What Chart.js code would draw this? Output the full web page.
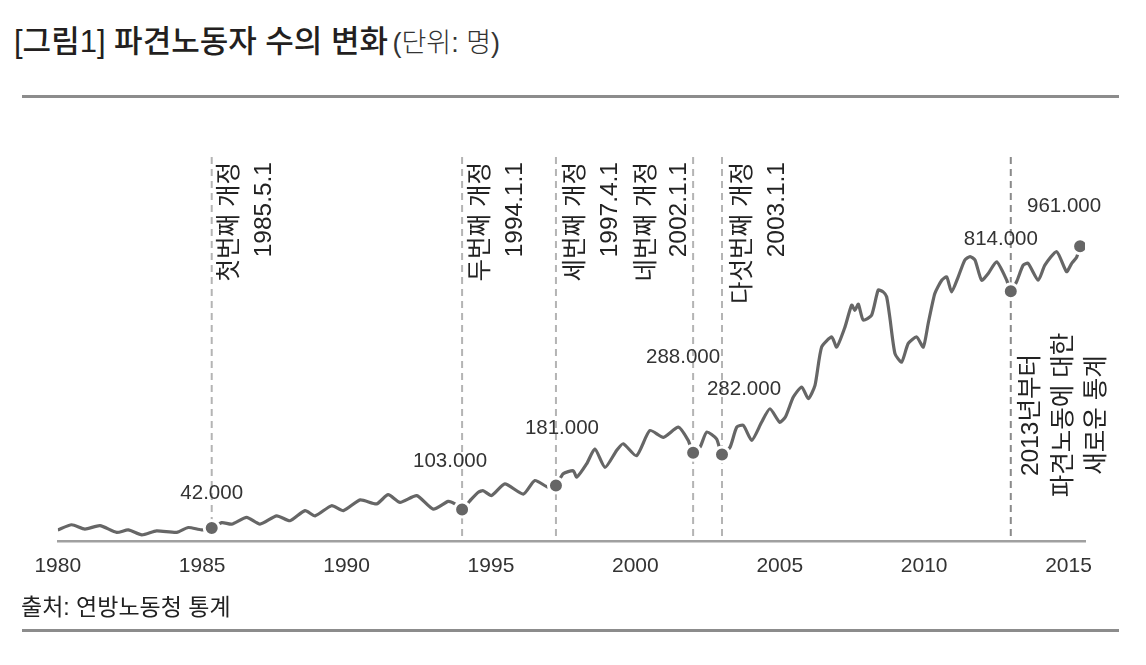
<!DOCTYPE html>
<html lang="ko">
<head>
<meta charset="utf-8">
<title>파견노동자 수의 변화</title>
<script src="https://cdn.jsdelivr.net/npm/chart.js@4.4.1/dist/chart.umd.min.js"></script>
<style>
  body { margin: 0; background: #fff; }
  #page { position: relative; width: 1146px; height: 665px; overflow: hidden;
          font-family: 'Liberation Sans', 'Noto Sans CJK KR', sans-serif; color: #222; }
  #title { position: absolute; left: 14px; top: 26px; line-height: 32px; white-space: nowrap; }
  #title .main { font-size: 31px; font-weight: 500; color: #231f20; }
  #title .unit { font-size: 27px; font-weight: 300; color: #333; }
  .rule { position: absolute; left: 22px; width: 1097px; height: 3px; background: #8c8c8c; }
  #source { position: absolute; left: 21px; top: 593px; font-size: 23px; line-height: 28px; color: #222; }
  #wrap { position: absolute; left: 0; top: 0; width: 1146px; height: 665px; }
</style>
</head>
<body>
<div id="page">
  <div id="title"><span class="main">[그림1] 파견노동자 수의 변화</span> <span class="unit">(단위: 명)</span></div>
  <div class="rule" style="top:95px"></div>
  <div id="wrap"><canvas id="chart"></canvas></div>
  <div id="source">출처: 연방노동청 통계</div>
  <div class="rule" style="top:629px"></div>
</div>
<script>
// readings of the curve (year as decimal, persons)
const years = [
  1980.0, 1980.48, 1980.94, 1981.46, 1982.04, 1982.44, 1982.91, 1983.42, 1984.12, 1984.52,
  1984.98, 1985.33, 1985.68, 1986.02, 1986.54, 1987.0, 1987.58, 1988.04, 1988.56, 1988.91,
  1989.48, 1989.89, 1990.47, 1991.04, 1991.44, 1991.85, 1992.43, 1993.0, 1993.52, 1993.75,
  1994.0, 1994.27, 1994.56, 1994.73, 1995.02, 1995.48, 1996.12, 1996.52, 1996.98, 1997.25,
  1997.5, 1997.85, 1997.97, 1998.31, 1998.6, 1998.95, 1999.35, 1999.58, 2000.04, 2000.5,
  2000.97, 2001.49, 2001.83, 2002.0, 2002.24, 2002.47, 2002.81, 2003.0, 2003.28, 2003.51,
  2003.74, 2004.03, 2004.37, 2004.66, 2005.0, 2005.2, 2005.47, 2005.76, 2005.99, 2006.22,
  2006.45, 2006.8, 2006.97, 2007.26, 2007.49, 2007.6, 2007.72, 2007.89, 2008.18, 2008.41,
  2008.58, 2008.7, 2008.81, 2008.99, 2009.22, 2009.45, 2009.74, 2009.97, 2010.14, 2010.37,
  2010.61, 2010.78, 2010.95, 2011.18, 2011.41, 2011.59, 2011.76, 2011.99, 2012.22, 2012.51,
  2012.86, 2013.0, 2013.2, 2013.43, 2013.6, 2013.95, 2014.18, 2014.59, 2014.93, 2015.11,
  2015.28, 2015.4
];
const workers = [
  36000, 53000, 39000, 50000, 28000, 36000, 20000, 33000, 28000, 44000,
  36000, 42000, 60000, 55000, 77000, 55000, 82000, 66000, 99000, 82000,
  115000, 99000, 134000, 121000, 151000, 126000, 148000, 104000, 129000, 121000,
  103000, 131000, 159000, 164000, 148000, 186000, 153000, 197000, 175000, 181000,
  219000, 229000, 208000, 251000, 300000, 240000, 295000, 317000, 278000, 360000,
  338000, 371000, 328000, 288000, 306000, 355000, 333000, 282000, 306000, 371000,
  377000, 328000, 387000, 431000, 387000, 405000, 469000, 502000, 464000, 507000,
  632000, 665000, 632000, 698000, 769000, 752000, 772000, 720000, 736000, 818000,
  812000, 796000, 730000, 611000, 583000, 644000, 665000, 632000, 709000, 807000,
  850000, 861000, 812000, 861000, 916000, 927000, 916000, 850000, 872000, 910000,
  850000, 814000, 845000, 899000, 905000, 850000, 899000, 943000, 878000, 905000,
  925000, 961000
];

// highlighted points with value labels
const markYears = [1985.33, 1994.0, 1997.25, 2002.0, 2003.0, 2013.0, 2015.4];
const markValues = [42000, 103000, 181000, 288000, 282000, 814000, 961000];

// vertical reference lines and their notes
const lineYears = [1985.33, 1994.0, 1997.25, 2002.0, 2003.0, 2013.0];
const lineNotes = [
  ["첫번째 개정", "1985.5.1"],
  ["두번째 개정", "1994.1.1"],
  ["세번째 개정", "1997.4.1"],
  ["네번째 개정", "2002.1.1"],
  ["다섯번째 개정", "2003.1.1"],
  ["2013년부터", "파견노동에 대한", "새로운 통계"]
];

const yearTicks = [1980, 1985, 1990, 1995, 2000, 2005, 2010, 2015];

// layout of the annotations (pixels)
const noteOffsets = [[19, 53], [19, 53], [20, 54], [-46, -14], [21, 55], [20, 53, 86]];
const noteAnchors = ["top", "top", "top", "top", "top", "middle"];
const labelOffsets = [[0, -35], [-12, -48], [6, -57], [-10, -95], [22, -65], [-10, -52], [-16, -40]];

const FONT = "'Liberation Sans', 'Noto Sans CJK KR', sans-serif";

const fmt = (v) => String(v).replace(/\B(?=(\d{3})+(?!\d))/g, ".");

const annotations = {
  id: "annotations",
  beforeDatasetsDraw(chart) {
    const { ctx, chartArea, scales } = chart;
    ctx.save();
    ctx.lineWidth = 2;
    ctx.setLineDash([7, 5]);
    lineYears.forEach((t, i) => {
      const px = scales.x.getPixelForValue(t);
      ctx.strokeStyle = i === lineYears.length - 1 ? "#8a8a8a" : "#b4b4b4";
      ctx.beginPath();
      ctx.moveTo(px, chartArea.top);
      ctx.lineTo(px, chartArea.bottom);
      ctx.stroke();
    });
    ctx.restore();
  },
  afterDatasetsDraw(chart) {
    const { ctx, scales } = chart;
    ctx.save();
    // rotated notes
    ctx.fillStyle = "#222";
    ctx.font = "24.5px " + FONT;
    ctx.textBaseline = "middle";
    lineYears.forEach((t, i) => {
      const px = scales.x.getPixelForValue(t);
      const anchorTop = noteAnchors[i] === "top";
      lineNotes[i].forEach((txt, j) => {
        ctx.save();
        ctx.translate(px + noteOffsets[i][j], anchorTop ? 162 : 415);
        ctx.rotate(-Math.PI / 2);
        ctx.textAlign = anchorTop ? "right" : "center";
        ctx.fillText(txt, 0, 0);
        ctx.restore();
      });
    });
    // value labels
    ctx.fillStyle = "#333";
    ctx.font = "20.5px " + FONT;
    ctx.textAlign = "center";
    markYears.forEach((t, i) => {
      const px = scales.x.getPixelForValue(t);
      const py = scales.y.getPixelForValue(markValues[i]);
      ctx.fillText(fmt(markValues[i]), px + labelOffsets[i][0], py + labelOffsets[i][1]);
    });
    ctx.restore();
  }
};

new Chart(document.getElementById("chart"), {
  type: "line",
  plugins: [annotations],
  data: {
    datasets: [
      {
        type: "scatter",
        data: markYears.map((t, i) => ({ x: t, y: markValues[i] })),
        pointRadius: 7.5,
        pointBackgroundColor: "#666",
        pointBorderColor: "#fff",
        pointBorderWidth: 3,
        order: 0
      },
      {
        data: years.map((t, i) => ({ x: t, y: workers[i] })),
        borderColor: "#666",
        borderWidth: 3.2,
        tension: 0.2,
        pointRadius: 0,
        fill: false,
        order: 1
      }
    ]
  },
  options: {
    responsive: true,
    maintainAspectRatio: false,
    animation: false,
    layout: { padding: { left: 57.8, right: 61, top: 157, bottom: 72.8 } },
    plugins: { legend: { display: false }, tooltip: { enabled: false } },
    scales: {
      x: {
        type: "linear",
        min: 1980,
        max: 2015.57,
        afterBuildTicks: (scale) => { scale.ticks = yearTicks.map((v) => ({ value: v })); },
        grid: { display: false, drawTicks: false },
        border: { display: true, color: "#a0a0a0", width: 2.5 },
        ticks: {
          autoSkip: false,
          maxRotation: 0,
          padding: 13,
          color: "#333",
          font: { family: FONT, size: 21 },
          callback: (v) => String(v)
        }
      },
      y: {
        display: false,
        min: 0,
        max: 1251600
      }
    }
  }
});
</script>
</body>
</html>
